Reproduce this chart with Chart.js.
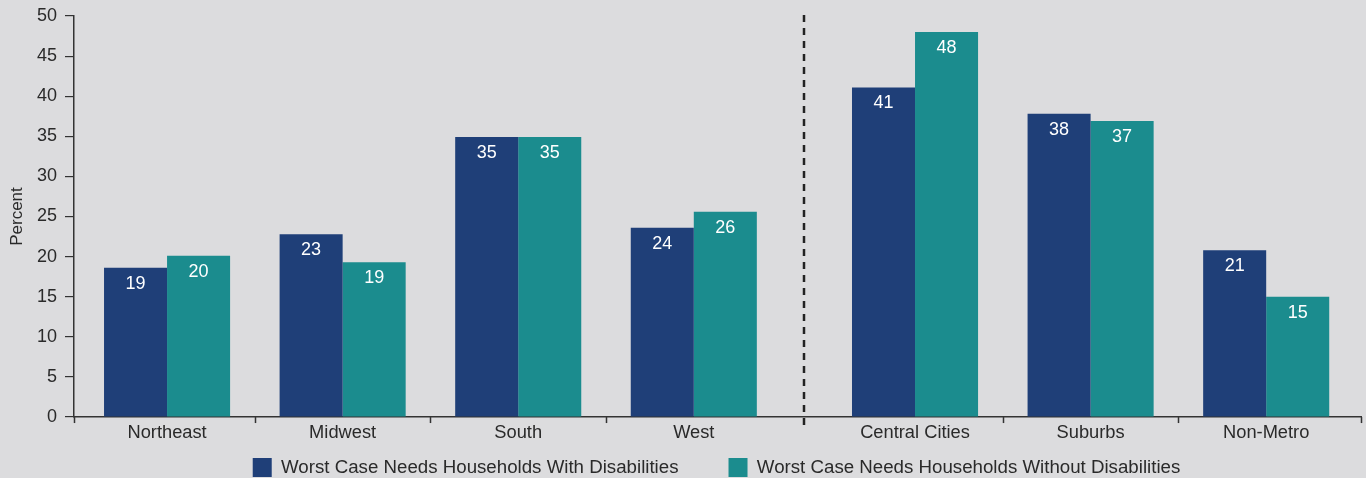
<!DOCTYPE html>
<html>
<head>
<meta charset="utf-8">
<script src="https://cdn.jsdelivr.net/npm/chart.js@4.4.1/dist/chart.umd.min.js"></script>
<style>
  html, body { margin: 0; padding: 0; background: #dcdcde; }
  #wrap { width: 1366px; height: 478px; position: relative; }
</style>
</head>
<body>
<div id="wrap"><canvas id="chart"></canvas></div>
<script>
// ---- data ----
const categories = ["Northeast", "Midwest", "South", "West", "Central Cities", "Suburbs", "Non-Metro"];
const withDisabilities = [18.6, 22.8, 34.9, 23.6, 41.1, 37.8, 20.8];
const withoutDisabilities = [20.1, 19.3, 34.9, 25.6, 48.0, 36.9, 15.0];
const seriesNames = ["Worst Case Needs Households With Disabilities", "Worst Case Needs Households Without Disabilities"];
const yMax = 50;
const yStep = 5;
const regionCount = 4; // first group (regions), then metro status

const NAVY = "#1f3f78";
const TEAL = "#1b8c8e";
const TEXT = "#2a2a2a";
const AXIS = "#333333";
const FONT = "'Liberation Sans', Arial, Helvetica, sans-serif";
const GROUP_GAP = 0.26;
const LEGEND_GAP = 50;

// x position of each category on the linear axis (extra gap between the two groups)
const pos = (i) => i + (i >= regionCount ? GROUP_GAP : 0);
const toPoints = (arr) => arr.map((v, i) => ({ x: pos(i), y: v }));

// boundary ticks under the x axis + dashed group separator
const xDividers = {
    id: "xDividers",
    afterDraw(chart) {
        const x = chart.scales.x;
        const { top, bottom } = chart.chartArea;
        const ctx = chart.ctx;
        const bounds = [x.min];
        for (let i = 0; i < categories.length - 1; i++) {
            bounds.push((pos(i) + pos(i + 1)) / 2);
        }
        bounds.push(x.max);
        ctx.save();
        ctx.strokeStyle = AXIS;
        ctx.lineWidth = 1.5;
        bounds.forEach((b, i) => {
            if (i === regionCount) return;
            const px = Math.round(x.getPixelForValue(b)) + 0.5;
            ctx.beginPath();
            ctx.moveTo(px, bottom);
            ctx.lineTo(px, bottom + 6);
            ctx.stroke();
        });
        const sx = Math.round(x.getPixelForValue(bounds[regionCount]));
        ctx.strokeStyle = "#222";
        ctx.lineWidth = 2.5;
        ctx.setLineDash([7, 6]);
        ctx.beginPath();
        ctx.moveTo(sx, top - 1);
        ctx.lineTo(sx, bottom + 8);
        ctx.stroke();
        ctx.restore();
    },
};

// value labels inside the top of each bar
const barLabels = {
    id: "barLabels",
    afterDatasetsDraw(chart) {
        const ctx = chart.ctx;
        ctx.save();
        ctx.fillStyle = "#ffffff";
        ctx.font = "18px " + FONT;
        ctx.textAlign = "center";
        ctx.textBaseline = "middle";
        chart.data.datasets.forEach((ds, di) => {
            chart.getDatasetMeta(di).data.forEach((bar, i) => {
                ctx.fillText(String(Math.round(ds.data[i].y)), bar.x, bar.y + 16);
            });
        });
        ctx.restore();
    },
};

// legend sits centred under the plot, not the canvas; items start at y=458
const legendPlace = {
    id: "legendPlace",
    afterLayout(chart) {
        const lg = chart.legend;
        if (!lg) return;
        const shiftX = 36;
        lg.left += shiftX;
        lg.right += shiftX;
        lg.top = 458 - LEGEND_GAP;
    },
};

new Chart(document.getElementById("chart"), {
    type: "bar",
    data: {
        datasets: [
            { label: seriesNames[0], data: toPoints(withDisabilities), backgroundColor: NAVY },
            { label: seriesNames[1], data: toPoints(withoutDisabilities), backgroundColor: TEAL },
        ],
    },
    options: {
        responsive: true,
        maintainAspectRatio: false,
        animation: false,
        categoryPercentage: 0.718,
        barPercentage: 1.0,
        layout: { padding: { top: 1, right: 5, left: 0, bottom: 0 } },
        plugins: {
            legend: {
                position: "bottom",
                maxHeight: 29,
                labels: {
                    boxWidth: 19,
                    boxHeight: 19,
                    padding: LEGEND_GAP,
                    color: TEXT,
                    font: { family: FONT, size: 18.7 },
                },
            },
            tooltip: { enabled: false },
        },
        scales: {
            x: {
                type: "linear",
                min: -0.53,
                max: 6.80,
                offset: false,
                grid: { display: false, drawTicks: false },
                border: { display: true, color: AXIS, width: 1.5 },
                afterBuildTicks: (scale) => {
                    scale.ticks = categories.map((c, i) => ({ value: pos(i) }));
                },
                ticks: {
                    autoSkip: false,
                    maxRotation: 0,
                    padding: 5,
                    color: TEXT,
                    font: { family: FONT, size: 18.3 },
                    callback: (value, index) => categories[index],
                },
            },
            y: {
                min: 0,
                max: yMax,
                afterFit: (scale) => {
                    scale.width = 74;
                    scale.paddingTop = 16;
                },
                grid: { drawOnChartArea: false, drawTicks: true, tickLength: 9, color: AXIS, lineWidth: 1.2 },
                border: { display: true, color: AXIS, width: 1.5 },
                ticks: {
                    stepSize: yStep,
                    padding: 8,
                    color: TEXT,
                    font: { family: FONT, size: 18 },
                },
                title: {
                    display: true,
                    text: "Percent",
                    color: TEXT,
                    padding: { top: 7, bottom: 0 },
                    font: { family: FONT, size: 17 },
                },
            },
        },
    },
    plugins: [xDividers, barLabels, legendPlace],
});
</script>
</body>
</html>
